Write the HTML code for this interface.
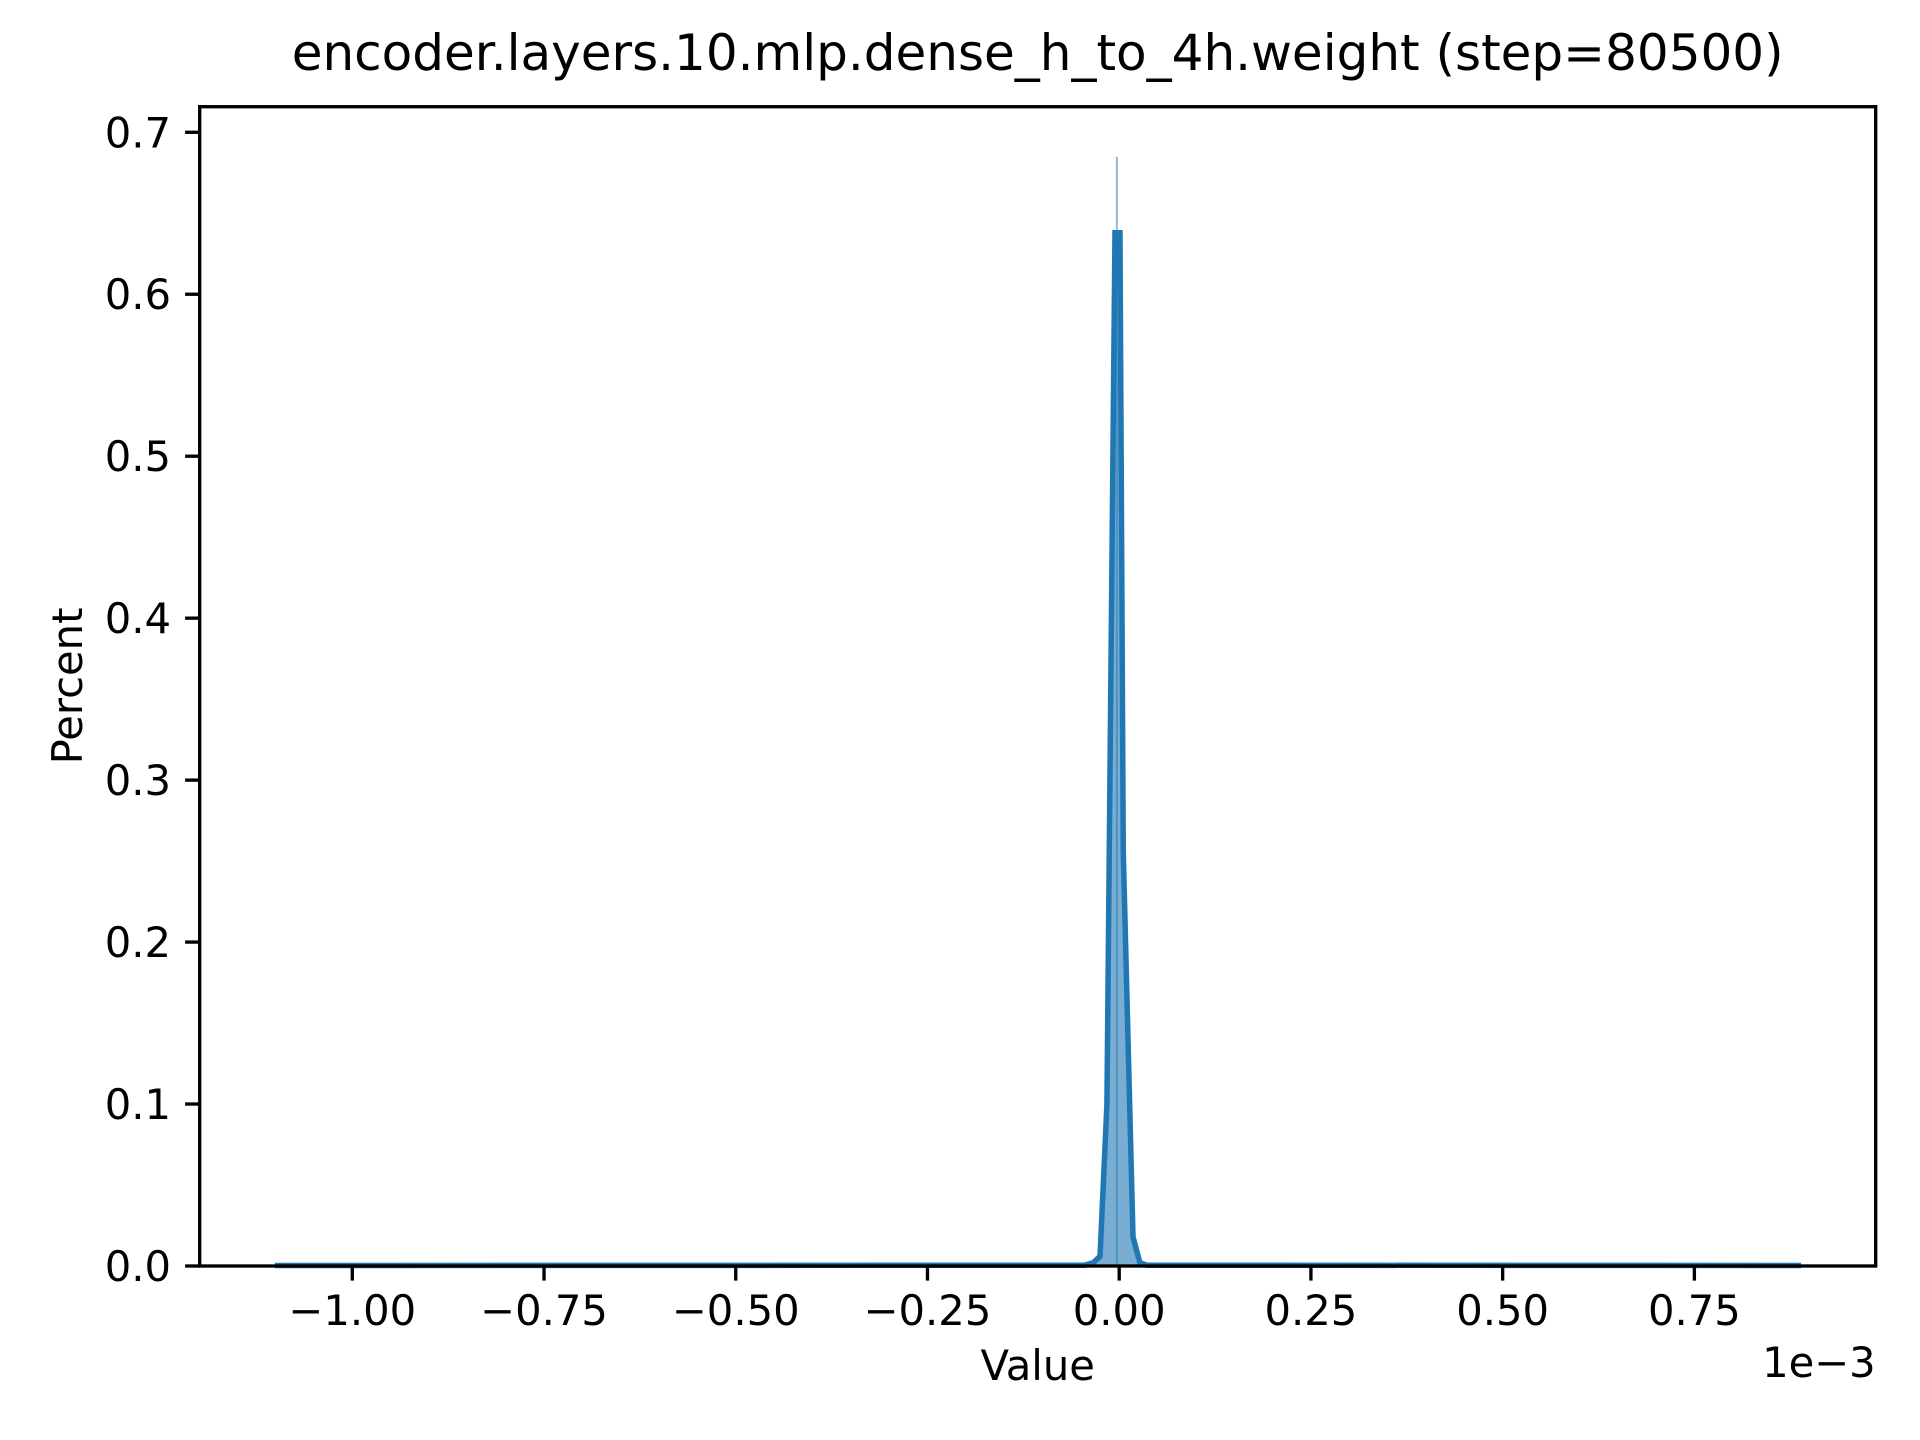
<!DOCTYPE html>
<html><head><meta charset="utf-8"><style>
html,body{margin:0;padding:0;background:#fff;}
svg{display:block;font-family:"DejaVu Sans","Liberation Sans",sans-serif;}
</style></head><body>
<svg id="chart" width="1920" height="1440" viewBox="0 0 1920 1440" xmlns="http://www.w3.org/2000/svg">
<rect width="1920" height="1440" fill="#fff"/>
<text x="1037.7" y="70" font-size="50" text-anchor="middle" fill="#000">encoder.layers.10.mlp.dense_h_to_4h.weight (step=80500)</text>
<g id="plot"></g>
<g id="xaxis"></g>
<g id="yaxis"></g>
<rect x="199.7" y="106.7" width="1676" height="1159.3" fill="none" stroke="#000" stroke-width="3.33"/>
<text x="1037.7" y="1380" font-size="41.7" text-anchor="middle">Value</text>
<text x="1875.7" y="1377" font-size="41.7" text-anchor="end">1e−3</text>
<text transform="translate(82,686) rotate(-90)" font-size="41.7" text-anchor="middle">Percent</text>
</svg>
<script>
// data (values in units of 1e-3)
const binValues = [-1.101, -0.045, -0.034, -0.025, -0.016, -0.0055, 0.001, 0.0053, 0.018, 0.027, 0.036, 0.889];
const percentValues = [0.0003, 0.0005, 0.002, 0.006, 0.10, 0.638, 0.638, 0.256, 0.018, 0.002, 0.0005, 0.0003];
const spikeValue = [-0.003, 0.685];
const xTicks = [-1.0, -0.75, -0.5, -0.25, 0.0, 0.25, 0.5, 0.75];
const xTickLabels = ["−1.00", "−0.75", "−0.50", "−0.25", "0.00", "0.25", "0.50", "0.75"];
const yTicks = [0, 0.1, 0.2, 0.3, 0.4, 0.5, 0.6, 0.7];
const yTickLabels = ["0.0", "0.1", "0.2", "0.3", "0.4", "0.5", "0.6", "0.7"];

const NS = "http://www.w3.org/2000/svg";
const X0 = 1119.2, XS = 766.9;
const Y0 = 1266, YS = 1619.6;
function xScale(v){ return X0 + v * XS; }
function yScale(v){ return Y0 - v * YS; }
function mk(tag, attrs){ const e = document.createElementNS(NS, tag); for (const k in attrs) e.setAttribute(k, attrs[k]); return e; }

const plot = document.getElementById('plot');
let pts = binValues.map((b, i) => xScale(b).toFixed(2) + ',' + yScale(percentValues[i]).toFixed(2));
const area = mk('polygon', {points: xScale(binValues[0]) + ',' + Y0 + ' ' + pts.join(' ') + ' ' + xScale(binValues[binValues.length-1]) + ',' + Y0, fill: '#1f77b4', 'fill-opacity': '0.6', stroke: 'none'});


plot.appendChild(area);
const spike = mk('line', {x1: xScale(spikeValue[0]), x2: xScale(spikeValue[0]), y1: Y0, y2: yScale(spikeValue[1]), stroke: '#1f77b4', 'stroke-opacity': '0.5', 'stroke-width': '2'});


plot.appendChild(spike);
const line = mk('polyline', {points: pts.join(' '), fill: 'none', stroke: '#1f77b4', 'stroke-width': '5.5', 'stroke-linejoin': 'miter', 'stroke-miterlimit': '2'});


plot.appendChild(line);

const xa = document.getElementById('xaxis');
xTicks.forEach((t, i) => {
  const x = xScale(t);
  const tk = mk('line', {x1: x, x2: x, y1: Y0, y2: Y0 + 14.6, stroke: '#000', 'stroke-width': '3.33'});
  
  
  xa.appendChild(tk);
  const tx = mk('text', {x: x, y: 1325, 'font-size': '41.7', 'text-anchor': 'middle'});
  tx.textContent = xTickLabels[i];
  
  
  xa.appendChild(tx);
});
const ya = document.getElementById('yaxis');
yTicks.forEach((t, i) => {
  const y = yScale(t);
  const tk = mk('line', {x1: 199.7 - 14.6, x2: 199.7, y1: y, y2: y, stroke: '#000', 'stroke-width': '3.33'});
  
  
  ya.appendChild(tk);
  const tx = mk('text', {x: 171, y: y + 15, 'font-size': '41.7', 'text-anchor': 'end'});
  tx.textContent = yTickLabels[i];
  
  
  ya.appendChild(tx);
});
</script>
</body></html>
